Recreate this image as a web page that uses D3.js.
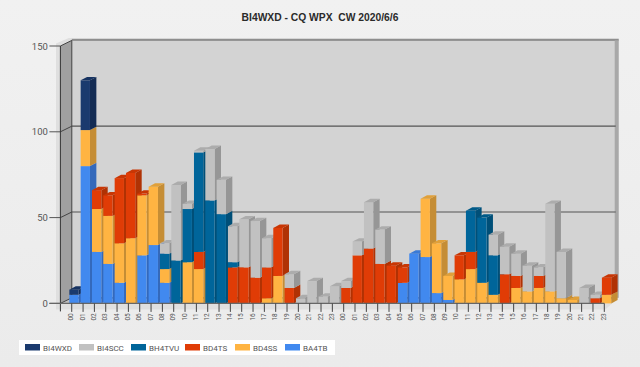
<!DOCTYPE html>
<html>
<head>
<meta charset="utf-8">
<script src="https://cdnjs.cloudflare.com/ajax/libs/d3/7.8.5/d3.min.js"></script>
<style>
  html, body { margin: 0; padding: 0; background: #eeeeee; }
  svg { display: block; }
  text { font-family: Roboto, sans-serif; white-space: pre; }
  text.title { font-family: "Liberation Sans", Arial, sans-serif; }
</style>
</head>
<body>
<div id="chart"></div>
<script>
var hours = ["00","01","02","03","04","05","06","07","08","09","10","11","12","13","14","15","16","17","18","19","20","21","22","23",
             "00","01","02","03","04","05","06","07","08","09","10","11","12","13","14","15","16","17","18","19","20","21","22","23"];

// stacked bottom to top
var BA4TB  = [5,80,30,23,12,0,28,34,12,0,0,0,0,0,0,0,0,0,0,0,0,0,0,0,
              0,0,0,0,0,12,29,27,6,2,0,0,0,0,0,0,0,0,0,0,0,0,0,0];
var BD4SS  = [0,21,25,28,23,38,35,34,8,0,24,20,0,0,0,0,0,3,16,0,0,0,0,0,
              0,0,0,0,0,0,0,34,29,14,14,20,12,5,0,9,7,9,7,3,2,0,0,5];
var BD4TS  = [0,0,11,12,38,38,1,0,0,0,0,10,0,0,21,21,15,18,28,9,0,0,0,0,
              9,28,32,23,22,9,0,0,0,0,14,10,0,0,17,7,0,7,0,0,0,0,3,10];
var BH4TVU = [0,0,0,0,0,0,0,0,9,25,31,58,60,52,3,0,0,0,0,0,0,0,0,0,
              0,0,0,0,0,0,0,0,0,0,0,24,38,23,0,0,0,0,0,0,0,0,0,0];
var BI4SCC = [0,0,0,0,0,0,0,0,6,44,3,1,30,20,21,28,33,17,0,8,3,13,4,10,
              4,8,27,20,0,0,0,0,0,0,0,0,0,12,16,13,15,5,51,27,0,9,2,0];
var BI4WXD = [3,29,0,0,0,0,0,0,0,0,0,0,0,0,0,0,0,0,0,0,0,0,0,0,
              0,0,0,0,0,0,0,0,0,0,0,0,0,0,0,0,0,0,0,0,0,0,0,0];

var seriesNames = ["BA4TB","BD4SS","BD4TS","BH4TVU","BI4SCC","BI4WXD"];
var seriesValues = [BA4TB, BD4SS, BD4TS, BH4TVU, BI4SCC, BI4WXD];
var legendNames = ["BI4WXD","BI4SCC","BH4TVU","BD4TS","BD4SS","BA4TB"];
var yTicks = [0, 50, 100, 150];
var title = "BI4WXD - CQ WPX  CW 2020/6/6";

var front = { BA4TB: "#4189ef", BD4SS: "#ffb442", BD4TS: "#e03c06", BH4TVU: "#00659a", BI4SCC: "#c1c1c1", BI4WXD: "#1a3a6e" };
var side  = { BA4TB: "#3469bb", BD4SS: "#c58d35", BD4TS: "#b03204", BH4TVU: "#004f78", BI4SCC: "#969696", BI4WXD: "#142c54" };
var cap   = { BA4TB: "#3a7ad6", BD4SS: "#e0a03a", BD4TS: "#c83604", BH4TVU: "#005a88", BI4SCC: "#acacac", BI4WXD: "#173361" };

var width = 640, height = 367;

// 3d wall offset and bar depth
var wallDx = 11.4, wallDy = -5.6;
var barDx = 6.4, barDy = -3.4;
var barW = 9.3;

var svg = d3.select("#chart").append("svg")
  .attr("width", width)
  .attr("height", height);

var defs = svg.append("defs");
var grad = defs.append("linearGradient").attr("id", "page").attr("x1", 0).attr("x2", 0).attr("y1", 0).attr("y2", 1);
grad.append("stop").attr("offset", "0%").attr("stop-color", "#f1f1f1");
grad.append("stop").attr("offset", "100%").attr("stop-color", "#ebebeb");
svg.append("rect").attr("width", width).attr("height", height).attr("fill", "url(#page)");

var x = d3.scaleBand()
  .domain(d3.range(hours.length))
  .range([60.4, 604.3]);

var y = d3.scaleLinear()
  .domain([0, 150])
  .range([303.4, 46]);

var x0 = x.range()[0], x1 = x.range()[1];
var y0 = y(0), yTop = y(150);

function poly(pts) {
  return pts.map(function(p) { return p[0] + "," + p[1]; }).join(" ");
}

// backdrop band round the walls
svg.append("polygon")
  .attr("points", poly([[56, yTop + wallDy + 3], [x0 + wallDx - 3, yTop + wallDy - 2.5], [x1 + wallDx + 3, yTop + wallDy - 2.5],
    [x1 + wallDx + 3, y0 + wallDy], [x1 + 1, y0 + 6], [56, y0 + 6]]))
  .attr("fill", "#dfdfdf");

// back wall
svg.append("rect")
  .attr("x", x0 + wallDx)
  .attr("y", yTop + wallDy)
  .attr("width", x1 - x0)
  .attr("height", y0 - yTop)
  .attr("fill", "#d3d3d3");

// top and right edges of the wall
svg.append("rect").attr("x", x0 + wallDx).attr("y", yTop + wallDy - 1.5)
  .attr("width", x1 - x0 + 3).attr("height", 2).attr("fill", "#8e8e8e");
svg.append("rect").attr("x", x1 + wallDx - 1).attr("y", yTop + wallDy)
  .attr("width", 4).attr("height", y0 - yTop).attr("fill", "#a8a8a8");

// left wall
svg.append("polygon")
  .attr("points", poly([[x0, yTop], [x0 + wallDx, yTop + wallDy], [x0 + wallDx, y0 + wallDy], [x0, y0]]))
  .attr("fill", "#a0a0a0");

// floor
svg.append("polygon")
  .attr("points", poly([[x0, y0], [x0 + wallDx, y0 + wallDy], [x1 + wallDx, y0 + wallDy], [x1, y0]]))
  .attr("fill", "#bcbcbc");

// grid
yTicks.forEach(function(t) {
  svg.append("line")
    .attr("x1", x0 + wallDx).attr("x2", x1 + wallDx)
    .attr("y1", y(t) + wallDy).attr("y2", y(t) + wallDy)
    .attr("stroke", t == 150 ? "none" : "#555555").attr("stroke-width", 1.2);
  svg.append("line")
    .attr("x1", x0).attr("x2", x0 + wallDx)
    .attr("y1", y(t)).attr("y2", y(t) + wallDy)
    .attr("stroke", "#444444").attr("stroke-width", 1);
  svg.append("line")
    .attr("x1", x0 - 11).attr("x2", x0)
    .attr("y1", y(t)).attr("y2", y(t))
    .attr("stroke", "#555555").attr("stroke-width", 1);
  svg.append("text")
    .attr("x", x0 - 12.5)
    .attr("y", y(t) + 3.5)
    .attr("text-anchor", "end")
    .attr("font-size", 9.5)
    .attr("fill", "#555555")
    .text(t);
});

svg.append("line").attr("x1", x0).attr("x2", x0).attr("y1", yTop).attr("y2", y0 + 8)
  .attr("stroke", "#333333").attr("stroke-width", 1);
svg.append("line").attr("x1", x0 + wallDx).attr("x2", x0 + wallDx).attr("y1", yTop + wallDy).attr("y2", y0 + wallDy)
  .attr("stroke", "#444444").attr("stroke-width", 1);

// stacked bars
var rows = hours.map(function(h, i) {
  var row = { index: i };
  seriesNames.forEach(function(s, k) { row[s] = seriesValues[k][i]; });
  return row;
});

var stacked = d3.stack().keys(seriesNames)(rows);

function barLeft(i) {
  return x(i) + x.bandwidth() - 2.4;
}

var bars = svg.append("g").attr("class", "bars");

rows.forEach(function(row, i) {
  var segs = stacked
    .map(function(layer) { return { key: layer.key, lo: layer[i][0], hi: layer[i][1] }; })
    .filter(function(d) { return d.hi > d.lo; });
  var g = bars.append("g");
  var left = barLeft(i);

  g.selectAll(".side").data(segs).enter().append("polygon")
    .attr("points", function(d) {
      return poly([[left + barW, y(d.lo)], [left + barW + barDx, y(d.lo) + barDy],
        [left + barW + barDx, y(d.hi) + barDy], [left + barW, y(d.hi)]]);
    })
    .attr("fill", function(d) { return side[d.key]; });

  g.selectAll(".front").data(segs).enter().append("rect")
    .attr("x", left)
    .attr("width", barW)
    .attr("y", function(d) { return y(d.hi); })
    .attr("height", function(d) { return y(d.lo) - y(d.hi); })
    .attr("fill", function(d) { return front[d.key]; });

  if (segs.length) {
    var topSeg = segs[segs.length - 1];
    g.append("polygon")
      .attr("points", poly([[left, y(topSeg.hi)], [left + barDx, y(topSeg.hi) + barDy],
        [left + barW + barDx, y(topSeg.hi) + barDy], [left + barW, y(topSeg.hi)]]))
      .attr("fill", cap[topSeg.key]);
  }
});

// x axis
svg.append("line").attr("x1", x0 - 11).attr("x2", x1).attr("y1", y0).attr("y2", y0)
  .attr("stroke", "#666666").attr("stroke-width", 1.2);

var xt = svg.append("g").selectAll("g").data(hours).enter().append("g")
  .attr("transform", function(d, i) { return "translate(" + (x(i) + x.bandwidth()) + "," + y0 + ")"; });
xt.append("line").attr("y1", 0).attr("y2", 8.5).attr("stroke", "#444444").attr("stroke-width", 1);
xt.append("text")
  .attr("transform", "translate(1.5,13.5) rotate(-90)")
  .attr("text-anchor", "middle")
  .attr("font-size", 6.5)
  .attr("fill", "#555555")
  .text(function(d) { return d; });

// title
svg.append("text")
  .attr("class", "title")
  .attr("x", 320)
  .attr("y", 20.5)
  .attr("text-anchor", "middle")
  .attr("font-size", 10.3)
  .attr("font-weight", "bold")
  .attr("fill", "#2a2a2a")
  .text(title);

// legend
var legendPos = { BI4WXD: 25, BI4SCC: 79, BH4TVU: 131, BD4TS: 185, BD4SS: 235, BA4TB: 285 };

svg.append("rect")
  .attr("x", 19).attr("y", 340)
  .attr("width", 316).attr("height", 15)
  .attr("fill", "#ffffff");

var lg = svg.append("g").selectAll("g").data(legendNames).enter().append("g")
  .attr("transform", function(d) { return "translate(" + legendPos[d] + ",344)"; });
lg.append("rect")
  .attr("width", 15).attr("height", 6.5)
  .attr("fill", function(d) { return front[d]; });
lg.append("text")
  .attr("x", 18)
  .attr("y", 6.6)
  .attr("font-size", 8)
  .attr("fill", "#555555")
  .text(function(d) { return d; });
</script>
</body>
</html>
